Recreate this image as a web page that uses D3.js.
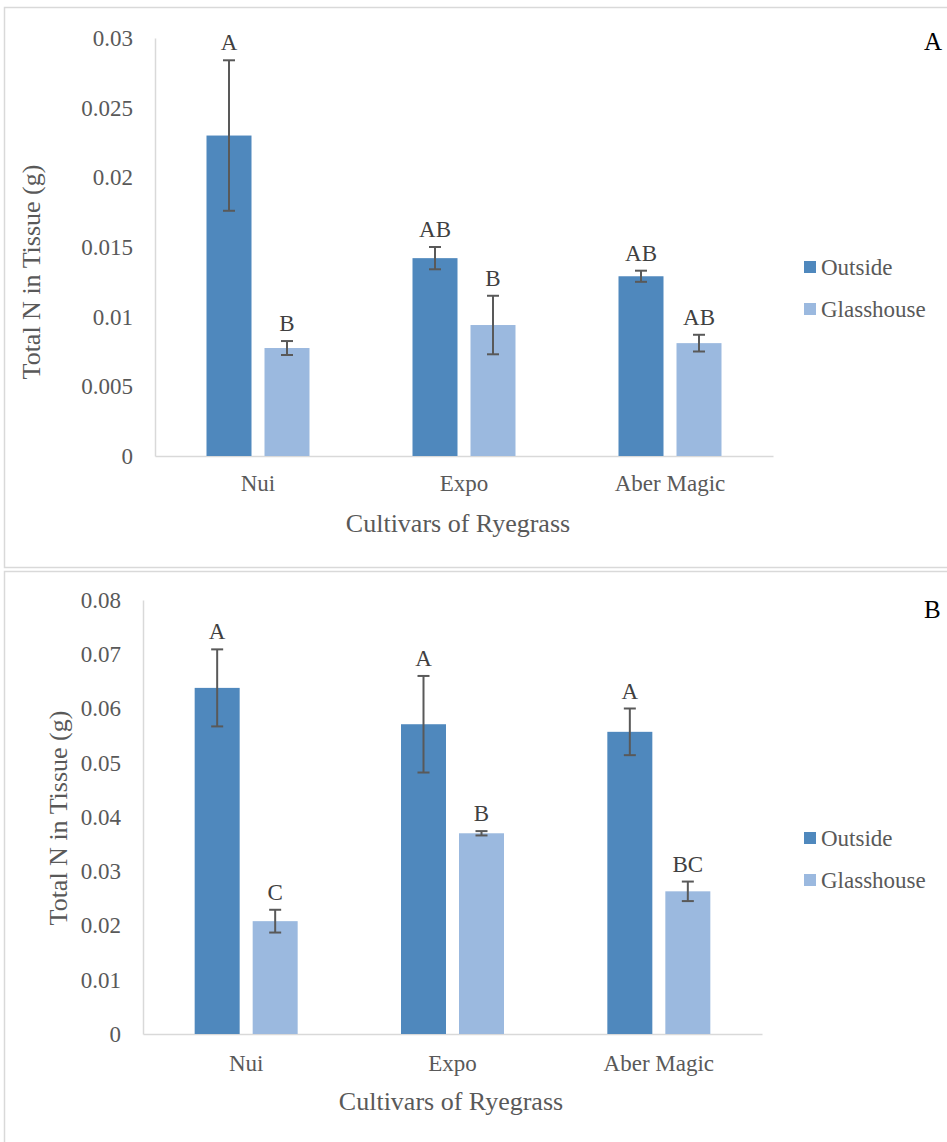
<!DOCTYPE html>
<html>
<head>
<meta charset="utf-8">
<script src="https://cdn.jsdelivr.net/npm/d3@7"></script>
<style>
  html, body { margin: 0; padding: 0; background: #fff; }
  svg { display: block; }
  svg text { font-family: "Liberation Serif", "DejaVu Serif", serif !important; }
</style>
</head>
<body>
<svg id="chart" width="947" height="1142"></svg>
<script>
// ---- Data ----
const categories = ["Nui", "Expo", "Aber Magic"];
const seriesNames = ["Outside", "Glasshouse"];

// Panel A
const panelAOutside = [0.0230, 0.0142, 0.0129];
const panelAOutsideErr = [0.0054, 0.0008, 0.0004];
const panelAGlasshouse = [0.00775, 0.0094, 0.0081];
const panelAGlasshouseErr = [0.0005, 0.0021, 0.0006];
const panelAOutsideLetters = ["A", "AB", "AB"];
const panelAGlasshouseLetters = ["B", "B", "AB"];
const panelATicks = [0, 0.005, 0.01, 0.015, 0.02, 0.025, 0.03];
const panelATickLabels = ["0", "0.005", "0.01", "0.015", "0.02", "0.025", "0.03"];

// Panel B
const panelBOutside = [0.0638, 0.0571, 0.0557];
const panelBOutsideErr = [0.0071, 0.0089, 0.0043];
const panelBGlasshouse = [0.0208, 0.0370, 0.0263];
const panelBGlasshouseErr = [0.0021, 0.0004, 0.0018];
const panelBOutsideLetters = ["A", "A", "A"];
const panelBGlasshouseLetters = ["C", "B", "BC"];
const panelBTicks = [0, 0.01, 0.02, 0.03, 0.04, 0.05, 0.06, 0.07, 0.08];
const panelBTickLabels = ["0", "0.01", "0.02", "0.03", "0.04", "0.05", "0.06", "0.07", "0.08"];

const yTitle = "Total N in Tissue (g)";
const xTitle = "Cultivars of Ryegrass";

// ---- Styles ----
const FONT = '"Liberation Serif", "DejaVu Serif", serif';
const colors = { Outside: "#4f88bd", Glasshouse: "#9bb9df" };
const textGray = "#595959";
const letterGray = "#404040";
const axisGray = "#d9d9d9";

const svg = d3.select("#chart");

// Panel frames
svg.append("rect").attr("x", 4.5).attr("y", 7.5).attr("width", 960).attr("height", 560)
  .attr("fill", "none").attr("stroke", axisGray).attr("stroke-width", 1.5);
svg.append("rect").attr("x", 4.5).attr("y", 571.5).attr("width", 960).attr("height", 600)
  .attr("fill", "none").attr("stroke", axisGray).attr("stroke-width", 1.5);

function drawPanel(cfg) {
  const g = svg.append("g");
  const x0 = d3.scaleBand().domain(categories).range([cfg.left, cfg.right]).paddingInner(0).paddingOuter(0);
  const bw = x0.bandwidth();
  const x1 = d3.scaleBand().domain(seriesNames).range([bw / 2 - 51.5, bw / 2 + 51.5]).paddingInner(13 / 58).paddingOuter(0);
  const y = d3.scaleLinear().domain([cfg.ticks[0], cfg.ticks[cfg.ticks.length - 1]]).range([cfg.bottom, cfg.top]);

  // y axis
  const yAxis = d3.axisLeft(y).tickValues(cfg.ticks).tickFormat((d, i) => cfg.tickLabels[i]).tickSize(0).tickPadding(22);
  const ya = g.append("g").attr("transform", `translate(${cfg.left},0)`).call(yAxis)
    .attr("font-family", FONT).attr("font-size", 23);
  ya.select(".domain").attr("stroke", axisGray).attr("stroke-width", 1.5);
  ya.selectAll("text").attr("fill", textGray);

  // x axis
  const xAxis = d3.axisBottom(x0).tickSize(0).tickPadding(0);
  const xa = g.append("g").attr("transform", `translate(0,${cfg.bottom})`).call(xAxis)
    .attr("font-family", FONT).attr("font-size", 23);
  xa.select(".domain").attr("stroke", axisGray).attr("stroke-width", 1.5);
  xa.selectAll("text").attr("fill", textGray)
    .attr("dy", null).attr("y", cfg.catBaseline - cfg.bottom);

  const series = [
    { name: "Outside", vals: cfg.outside, errs: cfg.outsideErr, letters: cfg.outsideLetters },
    { name: "Glasshouse", vals: cfg.glass, errs: cfg.glassErr, letters: cfg.glassLetters }
  ];

  series.forEach(s => {
    const data = categories.map((c, i) => ({ c, v: s.vals[i], e: s.errs[i], l: s.letters[i] }));
    const cx = d => x0(d.c) + x1(s.name) + x1.bandwidth() / 2;
    g.append("g").selectAll("rect").data(data).join("rect")
      .attr("x", d => x0(d.c) + x1(s.name))
      .attr("width", x1.bandwidth())
      .attr("y", d => y(d.v))
      .attr("height", d => y(0) - y(d.v))
      .attr("fill", colors[s.name]);
    const eb = g.append("g").attr("stroke", "#595959").attr("stroke-width", 2);
    eb.selectAll("line.v").data(data).join("line").attr("class", "v")
      .attr("x1", cx).attr("x2", cx)
      .attr("y1", d => y(d.v + d.e)).attr("y2", d => y(d.v - d.e));
    eb.selectAll("line.t").data(data).join("line").attr("class", "t")
      .attr("x1", d => cx(d) - 6).attr("x2", d => cx(d) + 6)
      .attr("y1", d => y(d.v + d.e)).attr("y2", d => y(d.v + d.e));
    eb.selectAll("line.b").data(data).join("line").attr("class", "b")
      .attr("x1", d => cx(d) - 6).attr("x2", d => cx(d) + 6)
      .attr("y1", d => y(d.v - d.e)).attr("y2", d => y(d.v - d.e));
    g.append("g").selectAll("text").data(data).join("text")
      .attr("x", cx).attr("y", d => y(d.v + d.e) - 10)
      .attr("text-anchor", "middle").attr("font-size", 23).attr("fill", letterGray)
      .text(d => d.l);
  });

  // axis titles
  g.append("text").attr("x", cfg.xTitleX).attr("y", cfg.xTitleBaseline)
    .attr("text-anchor", "middle").attr("font-size", 26).attr("fill", textGray).text(xTitle);
  g.append("text").attr("transform", `translate(${cfg.yTitleX},${cfg.yTitleY}) rotate(-90)`)
    .attr("text-anchor", "middle").attr("dy", "0.35em").attr("font-size", 26).attr("fill", textGray).text(yTitle);

  // legend
  seriesNames.forEach((n, i) => {
    const cy = cfg.legendY + i * 42;
    g.append("rect").attr("x", 804).attr("y", cy - 6).attr("width", 12).attr("height", 12).attr("fill", colors[n]);
    g.append("text").attr("x", 821).attr("y", cy + 8).attr("font-size", 23).attr("fill", textGray).text(n);
  });

  // panel letter
  g.append("text").attr("x", 924).attr("y", cfg.panelLetterY).attr("font-size", 25).attr("fill", "#000").text(cfg.panelLetter);
}

drawPanel({
  left: 155, right: 773, top: 38, bottom: 456,
  ticks: panelATicks, tickLabels: panelATickLabels,
  outside: panelAOutside, outsideErr: panelAOutsideErr, outsideLetters: panelAOutsideLetters,
  glass: panelAGlasshouse, glassErr: panelAGlasshouseErr, glassLetters: panelAGlasshouseLetters,
  catBaseline: 491, xTitleX: 458, xTitleBaseline: 532, yTitleX: 31, yTitleY: 272,
  legendY: 267, panelLetter: "A", panelLetterY: 50
});

drawPanel({
  left: 143, right: 762, top: 600, bottom: 1034,
  ticks: panelBTicks, tickLabels: panelBTickLabels,
  outside: panelBOutside, outsideErr: panelBOutsideErr, outsideLetters: panelBOutsideLetters,
  glass: panelBGlasshouse, glassErr: panelBGlasshouseErr, glassLetters: panelBGlasshouseLetters,
  catBaseline: 1071, xTitleX: 451, xTitleBaseline: 1110, yTitleX: 58, yTitleY: 818,
  legendY: 838, panelLetter: "B", panelLetterY: 618
});

svg.selectAll("text").style("font-family", FONT);
</script>
</body>
</html>
